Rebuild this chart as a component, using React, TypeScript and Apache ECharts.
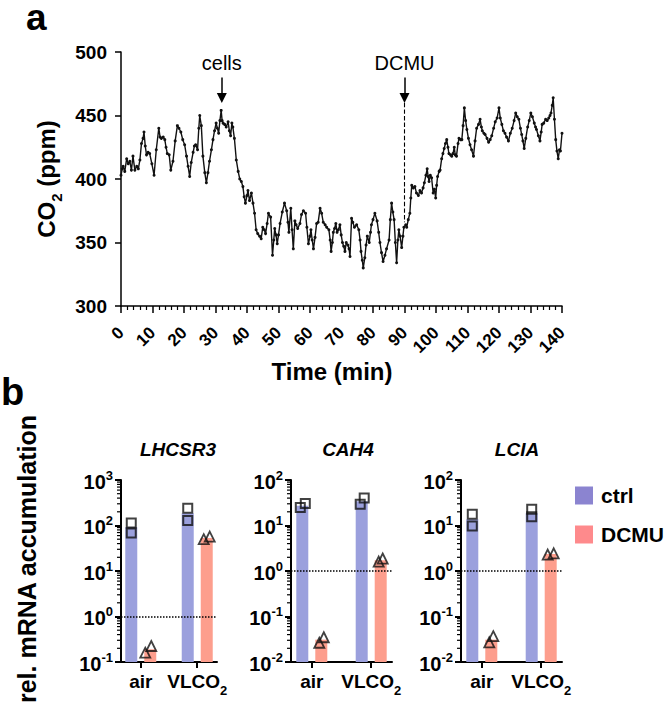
import React, { useEffect, useRef } from 'react';
import * as echarts from 'echarts';

const FONT = '"Liberation Sans", Arial, Helvetica, sans-serif';

// ---------------- panel a: CO2 trace ----------------
const timeMin = [
  0, 0.4, 0.7, 1.2, 1.8, 2.3, 2.8, 3.3, 3.8, 4.4, 5.0, 5.5, 6.0, 6.5, 7.0, 7.3, 7.7, 8.1, 8.6, 9.1,
  9.8, 10.5, 11.2, 12.0, 12.4, 12.8, 13.4, 13.9, 14.3, 14.7, 15.3, 15.8, 16.5, 17.2, 17.9, 18.4, 19.0, 19.6, 20.2, 20.8,
  21.3, 21.8, 22.3, 22.9, 23.3, 23.7, 24.3, 24.7, 25.0, 25.5, 26.0, 26.6, 27.1, 27.6, 28.1, 28.7, 29.2, 29.7, 30.2, 30.6,
  31.0, 31.4, 31.8, 32.1, 32.4, 32.9, 33.4, 34.0, 34.4, 34.8, 35.2, 35.5, 36.0, 36.6, 37.2, 37.7, 38.2, 38.7, 39.1, 39.5,
  40.0, 40.3, 40.8, 41.4, 41.9, 42.4, 42.9, 43.4, 44.0, 44.5, 45.0, 45.5, 45.9, 46.4, 46.8, 47.5, 48.1, 48.5, 48.8, 49.2,
  49.6, 50.0, 50.5, 51.2, 51.9, 52.6, 53.0, 53.3, 53.9, 54.3, 54.7, 55.2, 55.6, 56.1, 56.8, 57.3, 57.9, 58.6, 59.0, 59.5,
  60.0, 60.3, 60.7, 61.1, 61.6, 62.1, 62.6, 63.2, 63.7, 64.2, 64.8, 65.3, 66.0, 66.4, 66.7, 67.1, 67.4, 67.8, 68.2, 68.6,
  69.0, 69.5, 69.9, 70.3, 70.7, 71.1, 71.5, 72.0, 72.4, 72.7, 73.2, 73.6, 74.1, 74.8, 75.5, 75.9, 76.2, 76.6, 76.9, 77.4,
  77.8, 78.2, 78.8, 79.2, 79.5, 80.0, 80.6, 81.3, 81.8, 82.2, 82.7, 83.2, 83.8, 84.3, 85.1, 85.5, 85.9, 86.3, 86.7, 87.1,
  87.5, 87.9, 88.2, 88.6, 89.1, 89.5, 89.8, 90.4, 90.7, 91.2, 91.7, 92.0, 92.3, 92.8, 93.3, 93.8, 94.4, 94.9, 95.4, 95.9,
  96.3, 96.8, 97.2, 97.5, 97.8, 98.2, 98.6, 99.1, 99.5, 99.9, 100.2, 100.5, 101.0, 101.3, 101.8, 102.2, 102.6, 103.0, 103.4, 103.8,
  104.1, 104.6, 105.0, 105.4, 105.8, 106.1, 106.5, 107.0, 107.3, 107.8, 108.2, 108.6, 109.0, 109.4, 109.8, 110.3, 110.8, 111.3, 111.9, 112.4,
  112.9, 113.5, 114.0, 114.4, 114.7, 115.2, 115.6, 116.2, 116.7, 117.2, 117.7, 118.3, 118.8, 119.4, 120.0, 120.4, 120.9, 121.4, 121.9, 122.4,
  123.0, 123.6, 124.2, 124.8, 125.3, 125.8, 126.3, 126.8, 127.2, 127.6, 128.0, 128.5, 129.1, 129.6, 130.1, 130.6, 131.2, 131.6, 131.9, 132.5,
  133.0, 133.4, 133.7, 134.2, 134.8, 135.3, 135.8, 136.2, 136.5, 136.9, 137.2, 137.6, 138.0, 138.4, 138.8, 139.2, 139.5, 140.0,
];
const co2ppm = [
  403, 408, 410, 406, 416, 412, 414, 407, 418, 407, 410, 408, 415, 428, 432, 437, 426, 419, 421, 420,
  412, 403, 423, 440, 433, 432, 433, 431, 425, 420, 419, 407, 414, 430, 442, 440, 437, 431, 427, 418,
  410, 402, 413, 421, 426, 427, 423, 440, 450, 442, 418, 405, 397, 405, 414, 423, 431, 438, 444, 440,
  436, 446, 454, 446, 444, 443, 441, 445, 438, 434, 444, 441, 432, 415, 406, 400, 398, 394, 386, 381,
  387, 391, 383, 389, 381, 373, 360, 357, 355, 353, 362, 360, 357, 365, 373, 370, 340, 352, 361, 356,
  349, 356, 365, 374, 381, 375, 366, 358, 377, 360, 345, 367, 364, 361, 365, 372, 375, 373, 362, 349,
  355, 360, 352, 345, 354, 365, 366, 377, 373, 366, 364, 362, 360, 352, 343, 350, 358, 361, 365, 358,
  360, 364, 356, 350, 347, 343, 350, 348, 345, 339, 369, 366, 362, 364, 360, 352, 343, 336, 330, 338,
  348, 355, 350, 358, 364, 368, 373, 367, 358, 350, 342, 335, 340, 345, 352, 368, 381, 374, 368, 350,
  334, 352, 360, 355, 346, 355, 362, 364, 362, 368, 373, 385, 395, 393, 394, 389, 387, 391, 389, 393,
  397, 403, 408, 402, 398, 403, 401, 389, 392, 385, 395, 402, 406, 407, 416, 420, 424, 428, 431, 425,
  420, 419, 418, 420, 425, 419, 418, 428, 432, 431, 431, 442, 456, 446, 439, 432, 427, 423, 418, 430,
  440, 443, 447, 441, 438, 436, 435, 432, 429, 431, 434, 440, 445, 448, 456, 448, 443, 438, 436, 433,
  430, 436, 440, 446, 452, 449, 447, 440, 435, 430, 424, 432, 441, 446, 452, 449, 444, 441, 439, 434,
  430, 437, 443, 444, 447, 446, 448, 450, 452, 458, 464, 447, 431, 422, 416, 423, 422, 436,
];
const cellsAddedMin = 32;
const dcmuAddedMin = 90;

// ---------------- panel b: qPCR ----------------
const conditionX = [0, 1]; // air, VLCO2
const lhcsr3CtrlMean = [91, 186];
const lhcsr3DcmuMean = [0.19, 53];
const lhcsr3CtrlReps = [[113, 68], [240, 128]];
const lhcsr3DcmuReps = [[0.16, 0.225], [50, 57]];
const cah4CtrlMean = [27, 34];
const cah4DcmuMean = [0.031, 1.72];
const cah4CtrlReps = [[25, 30.5], [29.4, 40]];
const cah4DcmuReps = [[0.0265, 0.035], [1.61, 1.88]];
const lciaCtrlMean = [13.8, 18.5];
const lciaDcmuMean = [0.031, 2.35];
const lciaCtrlReps = [[17.7, 9.8], [22.8, 15.5]];
const lciaDcmuReps = [[0.027, 0.037], [2.3, 2.45]];

const CTRL_BAR = '#9ba0dd';
const DCMU_BAR = '#fd9e8d';
const BAR_OFF = 9.5;
const BAR_W = 12;

const panels = [
  { gene: 'LHCSR3', ctrlMean: lhcsr3CtrlMean, dcmuMean: lhcsr3DcmuMean, ctrlReps: lhcsr3CtrlReps, dcmuReps: lhcsr3DcmuReps,
    ctrlJit: [[0, 0], [0, 0]], dcmuJit: [[-5, 1], [-3, 3]], yMin: 0.1, yMax: 1000, left: 121, width: 96, titleX: 173 },
  { gene: 'CAH4', ctrlMean: cah4CtrlMean, dcmuMean: cah4DcmuMean, ctrlReps: cah4CtrlReps, dcmuReps: cah4DcmuReps,
    ctrlJit: [[-2, 3], [-1.5, 2.5]], dcmuJit: [[-2, 2.5], [-2, 2]], yMin: 0.01, yMax: 100, left: 291, width: 101, titleX: 343 },
  { gene: 'LCIA', ctrlMean: lciaCtrlMean, dcmuMean: lciaDcmuMean, ctrlReps: lciaCtrlReps, dcmuReps: lciaDcmuReps,
    ctrlJit: [[0, 0], [0, 0]], dcmuJit: [[-2, 2], [-3, 3]], yMin: 0.01, yMax: 100, left: 461, width: 101, titleX: 512 },
];

function barRender(offset: number, color: string) {
  return (params: any, api: any) => {
    const cs = params.coordSys;
    const pt = api.coord([api.value(0), api.value(1)]);
    const baseY = cs.y + cs.height;
    return {
      type: 'rect',
      shape: { x: pt[0] + offset - BAR_W / 2, y: pt[1], width: BAR_W, height: baseY - pt[1] },
      style: { fill: color },
    };
  };
}

function minorTickRender(params: any, api: any) {
  const cs = params.coordSys;
  const pt = api.coord([0, api.value(1)]);
  return {
    type: 'line',
    shape: { x1: cs.x - 4, y1: pt[1], x2: cs.x, y2: pt[1] },
    style: { stroke: '#000', lineWidth: 1.2 },
  };
}

function buildOption() {
  const trace = timeMin.map((t, i) => [t, co2ppm[i]]);
  const txt = { color: '#000', fontFamily: FONT };

  const grids: any[] = [
    { left: 121, top: 52, width: 441, height: 254, containLabel: false, outerBoundsMode: 'none' },
    ...panels.map((p) => ({ left: p.left, top: 480, width: p.width, height: 182, containLabel: false, outerBoundsMode: 'none' })),
  ];

  const xAxes: any[] = [
    {
      type: 'value', gridIndex: 0, min: 0, max: 140, interval: 10,
      axisLine: { show: true, onZero: false, lineStyle: { color: '#000', width: 1.5 } },
      axisTick: { show: true, length: 7, lineStyle: { color: '#000', width: 1.5 } },
      minorTick: { show: true, splitNumber: 5, length: 4, lineStyle: { color: '#000', width: 1.2 } },
      splitLine: { show: false }, minorSplitLine: { show: false },
      axisLabel: { rotate: 45, fontSize: 17, fontWeight: 'bold', margin: 24, ...txt },
      name: 'Time (min)', nameLocation: 'middle', nameGap: 53,
      nameTextStyle: { fontSize: 24, fontWeight: 'bold', padding: [0, 19, 0, 0], ...txt },
    },
    ...panels.map((p, i) => ({
      type: 'value', gridIndex: i + 1, min: -0.35, max: 1.35,
      axisLine: { show: true, onZero: false, lineStyle: { color: '#000', width: 2 } },
      axisTick: { show: true, customValues: conditionX, length: 6, lineStyle: { color: '#000', width: 2 } },
      splitLine: { show: false },
      axisLabel: {
        customValues: conditionX, margin: 10,
        formatter: (v: number) => (v === 0 ? '{m|air}' : '{m|VLCO}{s|2}'),
        rich: {
          m: { fontSize: 19, fontWeight: 'bold', lineHeight: 22, verticalAlign: 'top', ...txt },
          s: { fontSize: 13, fontWeight: 'bold', lineHeight: 13, padding: [12, 0, 0, 0], verticalAlign: 'top', ...txt },
        },
      },
    })),
  ];

  const yAxes: any[] = [
    {
      type: 'value', gridIndex: 0, min: 300, max: 500, interval: 50,
      axisLine: { show: true, onZero: false, lineStyle: { color: '#000', width: 1.5 } },
      axisTick: { show: true, length: 6, lineStyle: { color: '#000', width: 1.5 } },
      splitLine: { show: false },
      axisLabel: { fontSize: 19, fontWeight: 'bold', margin: 14, ...txt },
      name: '{m|CO}{s|2}{m| (ppm)}', nameLocation: 'middle', nameGap: 50,
      nameTextStyle: {
        rich: {
          m: { fontSize: 24, fontWeight: 'bold', lineHeight: 28, verticalAlign: 'top', ...txt },
          s: { fontSize: 15, fontWeight: 'bold', lineHeight: 15, padding: [15, 0, 0, 0], verticalAlign: 'top', ...txt },
        },
      },
    },
    ...panels.map((p, i) => ({
      type: 'log', logBase: 10, gridIndex: i + 1, min: p.yMin, max: p.yMax,
      axisLine: { show: true, onZero: false, lineStyle: { color: '#000', width: 2 } },
      axisTick: { show: true, length: 6, lineStyle: { color: '#000', width: 2 } },
      minorTick: { show: false },
      splitLine: { show: false },
      axisLabel: {
        margin: 8,
        formatter: (v: number) => {
          const e = Math.round(Math.log10(v));
          return '{m|10}{s|' + (e < 0 ? '-' + -e : String(e)) + '}';
        },
        rich: {
          m: { fontSize: 20, fontWeight: 'bold', lineHeight: 23, verticalAlign: 'bottom', ...txt },
          s: { fontSize: 13, fontWeight: 'bold', lineHeight: 13, verticalAlign: 'top', ...txt },
        },
      },
    })),
  ];

  const series: any[] = [
    {
      type: 'line', xAxisIndex: 0, yAxisIndex: 0, data: trace,
      symbol: 'circle', symbolSize: 3, showSymbol: true, showAllSymbol: true,
      lineStyle: { color: '#111', width: 1.4 }, itemStyle: { color: '#111' },
      markLine: {
        silent: true, animation: false, symbolSize: [10, 10],
        lineStyle: { color: '#000', width: 1.5, type: 'solid' },
        label: { show: false },
        data: [
          [
            { coord: [cellsAddedMin, 480], symbol: 'none',
              label: { show: true, position: 'start', distance: 4, formatter: 'cells', fontSize: 20, ...txt } },
            { coord: [cellsAddedMin, 463.8], symbol: 'triangle' },
          ],
          [
            { coord: [dcmuAddedMin, 480], symbol: 'none',
              label: { show: true, position: 'start', distance: 4, formatter: 'DCMU', fontSize: 20, ...txt } },
            { coord: [dcmuAddedMin, 463.8], symbol: 'triangle' },
          ],
          [
            { coord: [dcmuAddedMin, 460], symbol: 'none', lineStyle: { type: 'dashed', width: 1.1, color: '#000' } },
            { coord: [dcmuAddedMin, 366], symbol: 'none' },
          ],
        ],
      },
    },
  ];

  panels.forEach((p, i) => {
    const ax = i + 1;
    const minorData: number[][] = [];
    const e0 = Math.round(Math.log10(p.yMin));
    const e1 = Math.round(Math.log10(p.yMax));
    for (let e = e0; e < e1; e++) {
      for (let k = 2; k <= 9; k++) minorData.push([0, k * Math.pow(10, e)]);
    }
    series.push({
      type: 'custom', xAxisIndex: ax, yAxisIndex: ax, data: minorData, renderItem: minorTickRender,
      silent: true, clip: false, z: 1,
    });
    series.push({
      type: 'custom', name: 'ctrl', xAxisIndex: ax, yAxisIndex: ax,
      data: conditionX.map((x, j) => [x, p.ctrlMean[j]]),
      renderItem: barRender(-BAR_OFF, CTRL_BAR), itemStyle: { color: CTRL_BAR }, z: 2, silent: true,
    });
    series.push({
      type: 'custom', name: 'DCMU', xAxisIndex: ax, yAxisIndex: ax,
      data: conditionX.map((x, j) => [x, p.dcmuMean[j]]),
      renderItem: barRender(BAR_OFF, DCMU_BAR), itemStyle: { color: DCMU_BAR }, z: 2, silent: true,
    });
    series.push({
      type: 'scatter', name: p.gene + ' ctrl replicates', xAxisIndex: ax, yAxisIndex: ax,
      symbol: 'rect', symbolSize: 9, z: 4, silent: true,
      itemStyle: { color: 'rgba(0,0,0,0)', borderColor: '#111', borderWidth: 2 },
      data: conditionX.flatMap((x, j) =>
        p.ctrlReps[j].map((v, r) => ({ value: [x, v], symbolOffset: [-BAR_OFF + p.ctrlJit[j][r], 0] }))),
      markLine: {
        silent: true, animation: false, symbol: ['none', 'none'], label: { show: false },
        lineStyle: { color: '#000', width: 1.5, type: 'dotted' },
        data: [{ yAxis: 1 }],
      },
    });
    series.push({
      type: 'scatter', name: p.gene + ' DCMU replicates', xAxisIndex: ax, yAxisIndex: ax,
      symbol: 'triangle', symbolSize: 10, z: 4, silent: true,
      itemStyle: { color: 'rgba(0,0,0,0)', borderColor: '#111', borderWidth: 1.8 },
      data: conditionX.flatMap((x, j) =>
        p.dcmuReps[j].map((v, r) => ({ value: [x, v], symbolOffset: [BAR_OFF + p.dcmuJit[j][r], 0] }))),
    });
  });

  return {
    animation: false,
    backgroundColor: '#fff',
    textStyle: { fontFamily: FONT },
    grid: grids,
    xAxis: xAxes,
    yAxis: yAxes,
    series,
    title: panels.map((p) => ({
      text: p.gene, left: p.titleX, top: 435, textAlign: 'center',
      textStyle: { fontSize: 19, fontStyle: 'italic', fontWeight: 'bold', ...txt },
    })),
    legend: {
      orient: 'vertical', left: 570, top: 480, itemWidth: 18, itemHeight: 18, itemGap: 18,
      selectedMode: false,
      textStyle: { fontSize: 21, fontWeight: 'bold', padding: [0, 0, 0, 3], ...txt },
      data: [
        { name: 'ctrl', icon: 'rect', itemStyle: { color: '#8b84d0' } },
        { name: 'DCMU', icon: 'rect', itemStyle: { color: '#fe8a8c' } },
      ],
    },
    graphic: [
      { type: 'text', x: 26, y: 17, style: { text: 'a', fontSize: 37, lineHeight: 30, fontWeight: 'bold', fontFamily: FONT, fill: '#000', verticalAlign: 'middle' } },
      { type: 'text', x: 1, y: 392, style: { text: 'b', fontSize: 38, lineHeight: 34, fontWeight: 'bold', fontFamily: FONT, fill: '#000', verticalAlign: 'middle' } },
      {
        type: 'text', x: 27, y: 559, rotation: Math.PI / 2,
        style: { text: 'rel. mRNA accumulation', fontSize: 25, fontWeight: 'bold', fontFamily: FONT, fill: '#000', align: 'center', verticalAlign: 'middle' },
      },
    ],
  };
}

export default function App() {
  const ref = useRef<HTMLDivElement>(null);
  useEffect(() => {
    const chart = echarts.init(ref.current!, null, { renderer: 'svg' });
    chart.setOption(buildOption() as any);
    return () => chart.dispose();
  }, []);
  return (
    <div
      ref={ref}
      style={{ position: 'fixed', left: 0, top: 0, width: 666, height: 709, background: '#fff' }}
    />
  );
}
